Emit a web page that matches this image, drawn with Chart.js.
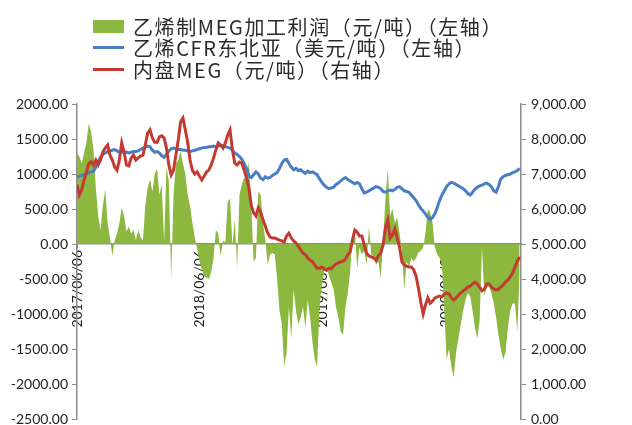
<!DOCTYPE html>
<html>
<head>
<meta charset="utf-8">
<script src="https://cdn.jsdelivr.net/npm/chart.js@4/dist/chart.umd.min.js"></script>
<style>
  html, body { margin: 0; padding: 0; background: #fff; }
  #wrap { position: relative; width: 632px; height: 425px; }
  #legend {
    position: absolute; left: 93px; top: 15.5px;
    font-family: "Noto Sans CJK SC", sans-serif; font-size: 20px;
    letter-spacing: 1.6px; color: #2b2b2b; white-space: nowrap;
  }
  #legend .row { display: flex; align-items: center; height: 21.5px; }
  #legend .mark { flex: none; width: 31px; margin-right: 9px; }
</style>
</head>
<body>
<div id="wrap">
  <canvas id="chartCanvas" width="632" height="425"></canvas>
  <div id="legend"></div>
</div>
<script>
// weekly samples starting 2017/06/06
const startDate = "2017/06/06";
const stepDays = 7;
const xTickLabels = ["2017/06/06", "2018/06/06", "2019/06/06", "2020/06/06"];
const seriesNames = [
    "乙烯制MEG加工利润（元/吨）（左轴）",
    "乙烯CFR东北亚（美元/吨）（左轴）",
    "内盘MEG（元/吨）（右轴）"
];

// 乙烯制MEG加工利润, left axis
const profitValues = [
    1300, 1250, 1150, 1300, 1450, 1720, 1600, 1350, 800, 400,
    200, 550, 780, 300, 100, -170, 50, 150, 300, 520,
    400, 180, 250, 150, 200, 60, 200, 100, 50, 550,
    800, 930, 750, 1000, 1080, 700, 850, 30, 1100, 900,
    -500, 700, 1150, 1200, 1330, 1150, 1000, 700, 550, 300,
    100, -60, -250, -350, -460, -480, -500, -400, -200, 200,
    150, -180, 50, 20, 600, 650, -20, 350, -350, 700,
    850, 950, 900, 1180, 600, -250, -200, 750, 700, 300,
    50, -300, -150, -130, -150, -500, -950, -1150, -1750, -1550,
    -900, -1350, -650, -950, -1150, -1050, -900, -1200, -800, -1050,
    -1400, -1650, -1750, -900, -600, -380, -350, -450, -550, -650,
    -900, -1050, -1250, -1300, -900, -700, -400, 150, 200, -350,
    -50, -150, -100, -300, 250, -150, -180, -300, -250, -500,
    50, 650, 1080, 400, 500, 300, 380, 150, -100, -650,
    -250, -330, -200, -250, -200, -120, -100, -50, 150, 500,
    450, 300, -50, -150, -200, -300, -950, -1650, -1500, -1750,
    -1900, -1550, -1350, -1150, -950, -800, -700, -750, -950, -1200,
    -1350, -1100, -50, -750, -620, -600, -700, -850, -1050, -1300,
    -1500, -1650, -1550, -1200, -950, -850, -850, -1250, -420
];

// 乙烯CFR东北亚, left axis
const cfrValues = [
    960, 970, 980, 990, 1000, 1020, 1030, 1040, 1100, 1180,
    1240, 1280, 1300, 1320, 1330, 1340, 1350, 1330, 1310, 1310,
    1320, 1310, 1300, 1310, 1320, 1320, 1330, 1350, 1370, 1380,
    1400, 1390, 1340, 1310, 1320, 1300, 1260, 1240, 1280, 1330,
    1360, 1370, 1360, 1350, 1350, 1340, 1340, 1330, 1320, 1330,
    1340, 1350, 1360, 1370, 1380, 1380, 1390, 1390, 1400, 1390,
    1400, 1410, 1400, 1390, 1380, 1370, 1340, 1300, 1280, 1250,
    1210, 1150, 1080, 970, 950, 990, 1030, 1000, 940, 920,
    960, 940, 950, 980, 1000, 1020, 1080, 1150, 1200, 1210,
    1150, 1100, 1060, 1080, 1050, 1060, 1030, 1010, 1040, 1020,
    1030, 1010, 990, 930, 880, 840, 810, 790, 800, 810,
    850, 870, 900, 930, 950, 920, 900, 880, 860, 880,
    860, 790, 730, 740, 760, 780, 800, 820, 810, 790,
    750, 740, 760, 770, 760, 780, 810, 820, 790, 760,
    750, 740, 700, 660, 620, 560, 510, 470, 430, 380,
    350, 380, 430, 520, 620, 700, 760, 820, 860, 880,
    870, 850, 830, 810, 790, 760, 720, 700, 740, 780,
    810, 830, 840, 860, 870, 850, 820, 760, 740, 820,
    930, 960, 980, 990, 1000, 1020, 1030, 1050, 1080
];

// 内盘MEG, right axis
const megValues = [
    6700, 6400, 6550, 6830, 7050, 7300, 7350, 7250, 7400, 7260,
    7400, 7630, 7740, 7830, 7540, 7400, 7200, 7110, 7400, 7890,
    7630, 7260, 7230, 7460, 7540, 7400, 7460, 7510, 7540, 7830,
    8170, 8260, 8030, 7910, 7910, 8060, 8090, 8030, 7740, 7260,
    6970, 7110, 7540, 7970, 8490, 8600, 8260, 7910, 7400, 7110,
    7000, 7060, 6940, 6830, 6940, 7060, 7110, 7260, 7460, 7690,
    7890, 7830, 7740, 7890, 8110, 8260, 7690, 7310, 7260, 7340,
    7310, 7110, 6890, 6600, 6110, 5890, 5800, 6030, 5910, 5690,
    5510, 5310, 5200, 5170, 5170, 5140, 5110, 5090, 5060, 5230,
    5310, 5170, 5090, 5030, 4940, 4830, 4740, 4690, 4600, 4540,
    4490, 4400, 4310, 4310, 4340, 4290, 4260, 4310, 4290, 4370,
    4430, 4460, 4490, 4510, 4570, 4690, 4770, 5110, 5400, 5340,
    5230, 5230, 4970, 4740, 4660, 4630, 4600, 4540, 4660, 4740,
    4970, 5460, 5690, 5170, 5260, 5430, 5170, 4910, 4490, 4400,
    4370, 4340, 4340, 4260, 4090, 3740, 3340, 3000, 3260, 3460,
    3310, 3370, 3460, 3490, 3510, 3490, 3570, 3600, 3570, 3460,
    3400, 3460, 3540, 3600, 3660, 3710, 3770, 3800, 3860, 3910,
    3860, 3770, 3660, 3710, 3860, 3860, 3770, 3710, 3690, 3710,
    3770, 3830, 3910, 3970, 4060, 4170, 4340, 4510, 4630
];

const greenColor = "#8db83f";
const blueColor = "#4a7ec4";
const redColor = "#c43a31";
const axisColor = "#8c8c8c";
const tickFont = { family: "Lato", size: 14 };

function toDays(s) {
    const p = s.split("/").map(Number);
    return Date.UTC(p[0], p[1] - 1, p[2]) / 86400000;
}
const tickDays = xTickLabels.map(function (s) { return toDays(s) - toDays(startDate); });

function toPoints(values) {
    return values.map(function (v, i) { return { x: i * stepDays, y: v }; });
}

// fixed axis width, and no extra room for the end labels
function fixWidth(w) {
    return function (scale) {
        scale.width = w;
        scale.paddingTop = 0;
        scale.paddingBottom = 0;
    };
}

const ctx = document.getElementById("chartCanvas").getContext("2d");
const chart = new Chart(ctx, {
    type: "line",
    data: {
        datasets: [{
            label: seriesNames[0],
            data: toPoints(profitValues),
            yAxisID: "y",
            backgroundColor: greenColor,
            borderColor: greenColor,
            borderWidth: 0,
            fill: "origin",
            pointRadius: 0,
            order: 3,
            legendBox: true
        }, {
            label: seriesNames[1],
            data: toPoints(cfrValues),
            yAxisID: "y",
            borderColor: blueColor,
            borderWidth: 3,
            fill: false,
            pointRadius: 0,
            order: 2
        }, {
            label: seriesNames[2],
            data: toPoints(megValues),
            yAxisID: "y1",
            borderColor: redColor,
            borderWidth: 3,
            fill: false,
            pointRadius: 0,
            order: 1
        }]
    },
    options: {
        responsive: false,
        animation: false,
        devicePixelRatio: 1,
        layout: { padding: { top: 104, bottom: 6, left: 0, right: 0 } },
        plugins: {
            legend: { display: false },
            tooltip: { enabled: false }
        },
        scales: {
            x: {
                type: "linear",
                position: { y: 0 },
                min: 0,
                max: 1320,
                z: 1,
                afterBuildTicks: function (scale) {
                    scale.ticks = tickDays.map(function (d) { return { value: d }; });
                },
                ticks: {
                    autoSkip: false,
                    minRotation: 90,
                    maxRotation: 90,
                    padding: 2,
                    color: "#222",
                    font: { family: "Lato", size: 14 },
                    callback: function (value, index) {
                        return xTickLabels[index];
                    }
                },
                grid: { drawOnChartArea: false, drawTicks: true, tickLength: 4, color: axisColor },
                border: { display: true, color: axisColor, width: 1.5 }
            },
            y: {
                position: "left",
                min: -2500,
                max: 2000,
                afterFit: fixWidth(77),
                ticks: {
                    stepSize: 500,
                    padding: 4,
                    color: "#222",
                    font: tickFont,
                    callback: function (v) { return v.toFixed(2); }
                },
                grid: { drawOnChartArea: false, drawTicks: true, tickLength: 5, color: axisColor },
                border: { display: true, color: axisColor, width: 1.5 }
            },
            y1: {
                position: "right",
                min: 0,
                max: 9000,
                afterFit: fixWidth(111),
                ticks: {
                    stepSize: 1000,
                    padding: 5,
                    color: "#222",
                    font: tickFont,
                    callback: function (v) {
                        return v.toLocaleString("en-US", { minimumFractionDigits: 2, maximumFractionDigits: 2 });
                    }
                },
                grid: { drawOnChartArea: false, drawTicks: true, tickLength: 5, color: axisColor },
                border: { display: true, color: axisColor, width: 1.5 }
            }
        }
    }
});

// legend in one column, built from the chart's datasets
const legendBox = document.getElementById("legend");
chart.data.datasets.forEach(function (ds) {
    const row = document.createElement("div");
    row.className = "row";
    const mark = document.createElement("span");
    mark.className = "mark";
    if (ds.legendBox) {
        mark.style.height = "13px";
        mark.style.background = ds.backgroundColor;
    } else {
        mark.style.height = "3px";
        mark.style.background = ds.borderColor;
    }
    const text = document.createElement("span");
    text.textContent = ds.label;
    row.appendChild(mark);
    row.appendChild(text);
    legendBox.appendChild(row);
});
</script>
</body>
</html>
